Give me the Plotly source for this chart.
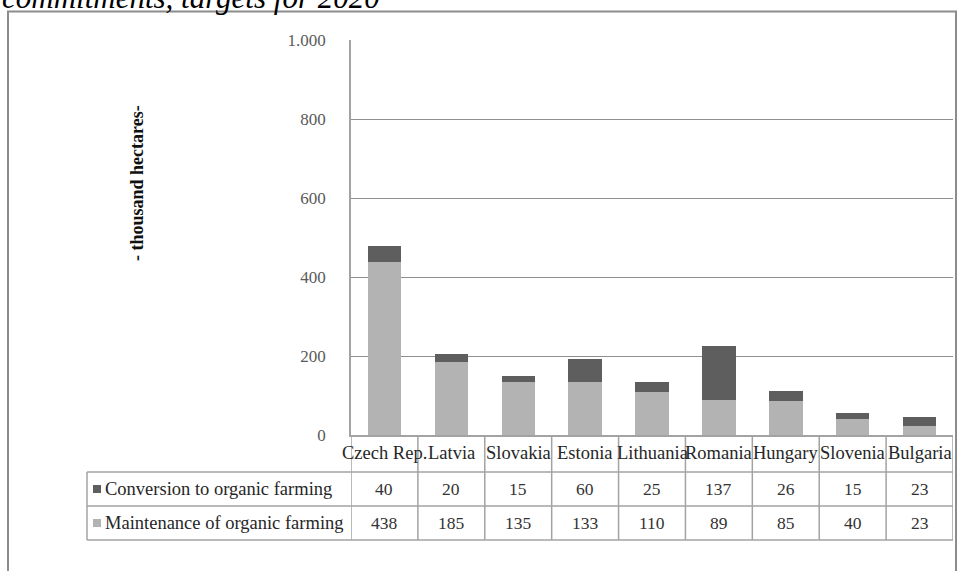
import plotly.graph_objects as go

# Planned organic farming areas (thousand hectares)
countries = ["Czech Rep.", "Latvia", "Slovakia", "Estonia", "Lithuania",
             "Romania", "Hungary", "Slovenia", "Bulgaria"]
conversion = [40, 20, 15, 60, 25, 137, 26, 15, 23]
maintenance = [438, 185, 135, 133, 110, 89, 85, 40, 23]
series_names = ["Conversion to organic farming", "Maintenance of organic farming"]
y_ticks = [0, 200, 400, 600, 800, 1000]
y_ticktext = ["0", "200", "400", "600", "800", "1.000"]

W, H = 958, 571
L, R, T, B = 351, 5, 40, 136
PW, PH = W - L - R, H - T - B

DARK = "#5e5e5e"
LIGHT = "#b3b3b3"
LINE = "#a3a3a3"
SERIF = "Liberation Serif"


def px(xpix):
    return (xpix - L) / PW


def py(ypix):
    return (H - B - ypix) / PH


fig = go.Figure()
fig.add_trace(go.Bar(x=countries, y=maintenance, name=series_names[1],
                     marker=dict(color=LIGHT, line=dict(width=0))))
fig.add_trace(go.Bar(x=countries, y=conversion, name=series_names[0],
                     marker=dict(color=DARK, line=dict(width=0))))

shapes = []
annotations = []

# outer frame
shapes.append(dict(type="rect", xref="paper", yref="paper",
                   x0=px(8), x1=px(956), y0=py(600), y1=py(11.5),
                   line=dict(color="#8c8c8c", width=2), layer="below"))

# data table grid
y_axis_line, y_row1, y_row2, y_end = 435, 472, 506, 540
for i in range(len(countries) + 1):
    xv = i - 0.5
    shapes.append(dict(type="line", xref="x", yref="paper",
                       x0=xv, x1=xv, y0=py(y_axis_line), y1=py(y_end),
                       line=dict(color=LINE, width=1.5)))
for yl in (y_row1, y_row2, y_end):
    shapes.append(dict(type="line", xref="paper", yref="paper",
                       x0=px(87), x1=px(953), y0=py(yl), y1=py(yl),
                       line=dict(color=LINE, width=1.5)))
shapes.append(dict(type="line", xref="paper", yref="paper",
                   x0=px(87), x1=px(87), y0=py(y_row1), y1=py(y_end),
                   line=dict(color=LINE, width=1.5)))

# category header row
for c in countries:
    annotations.append(dict(x=c, xref="x", y=py(453), yref="paper",
                            text=c, showarrow=False, xanchor="center",
                            yanchor="middle",
                            font=dict(family=SERIF, size=18.5, color="#262626")))

# series rows with legend keys and values
rows = [(series_names[0], conversion, DARK, 489),
        (series_names[1], maintenance, LIGHT, 523)]
for name, vals, col, yc in rows:
    shapes.append(dict(type="rect", xref="paper", yref="paper",
                       x0=px(93), x1=px(101), y0=py(yc + 4), y1=py(yc - 4),
                       fillcolor=col, line=dict(width=0)))
    annotations.append(dict(x=px(103), xref="paper", y=py(yc), yref="paper",
                            text=name, showarrow=False, xanchor="left",
                            yanchor="middle",
                            font=dict(family=SERIF, size=18.5, color="#262626")))
    for c, v in zip(countries, vals):
        annotations.append(dict(x=c, xref="x", y=py(yc), yref="paper",
                                text=str(v), showarrow=False, xanchor="center",
                                yanchor="middle",
                                font=dict(family=SERIF, size=17.5, color="#333333")))

# y-axis title
annotations.append(dict(x=px(137), xref="paper", y=py(183), yref="paper",
                        text="<b>- thousand hectares-</b>", textangle=-90,
                        showarrow=False, xanchor="center", yanchor="middle",
                        font=dict(family=SERIF, size=18, color="#111111")))

# heading (runs off the top edge)
annotations.append(dict(x=px(0), xref="paper", y=py(17), yref="paper",
                        text="<i>commitments, targets for 2020</i>",
                        showarrow=False, xanchor="left", yanchor="bottom",
                        font=dict(family=SERIF, size=31, color="#000000")))

fig.update_layout(
    width=W, height=H,
    margin=dict(l=L, r=R, t=T, b=B, pad=0),
    paper_bgcolor="white", plot_bgcolor="white",
    barmode="stack", bargap=0.5,
    showlegend=False,
    shapes=shapes, annotations=annotations,
    xaxis=dict(type="category", categoryorder="array", categoryarray=countries,
               range=[-0.5, len(countries) - 0.5], showticklabels=False,
               showline=True, linecolor=LINE, linewidth=1.5,
               showgrid=False, zeroline=False, ticks=""),
    yaxis=dict(range=[0, 1000], tickvals=y_ticks, ticktext=y_ticktext,
               showgrid=True, gridcolor="#8f8f8f", gridwidth=1.3,
               showline=True, linecolor=LINE, linewidth=1.5,
               ticks="", ticklabelstandoff=20,
               zeroline=False,
               tickfont=dict(family=SERIF, size=17, color="#5a5a5a")),
)

fig.write_html("out.html")
